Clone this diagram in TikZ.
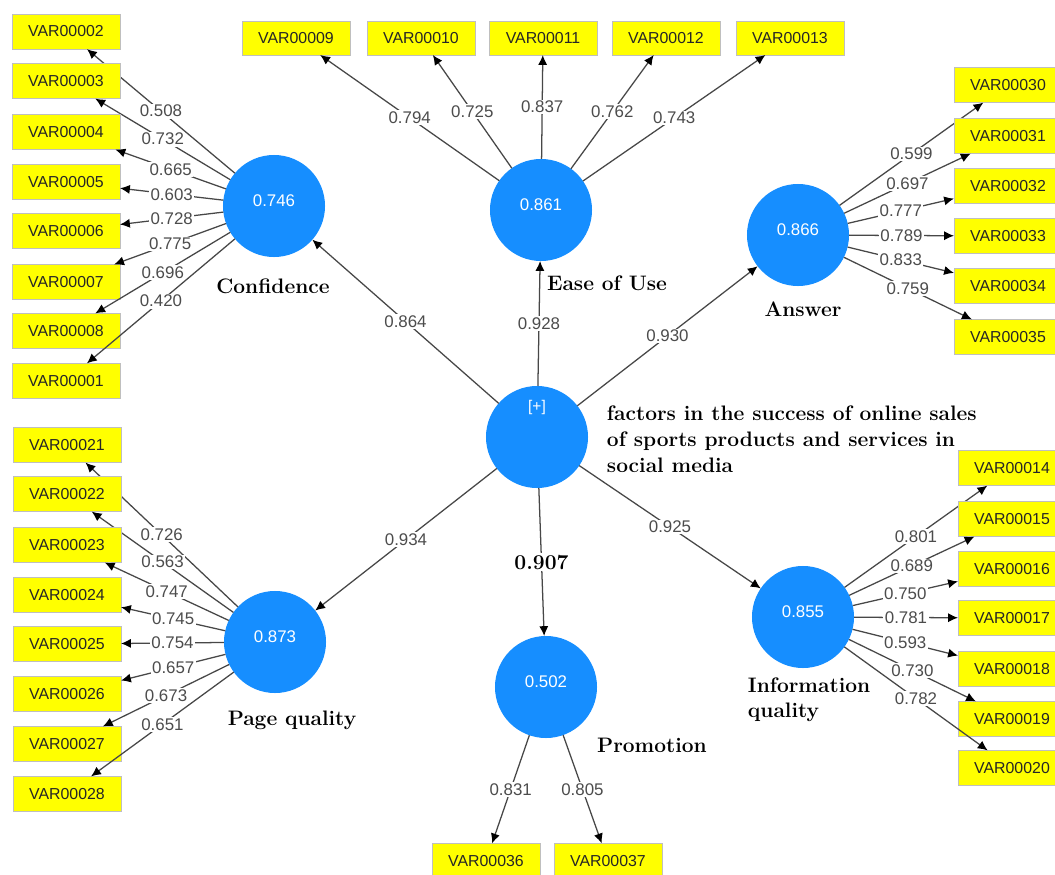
\documentclass[tikz,border=0pt]{standalone}
\usepackage{fontspec}
\usetikzlibrary{arrows.meta}
\newfontfamily\plsfont{Liberation Sans}
\definecolor{lvblue}{RGB}{22,142,255}
\definecolor{mvyellow}{RGB}{255,255,0}

\begin{document}
\begin{tikzpicture}[
  x=0.025cm, y=-0.025cm,
  latent/.style = {circle, fill=lvblue, minimum size=2.55cm, inner sep=0pt, outer sep=0pt, text=white,
    font=\plsfont\fontsize{12}{14}\selectfont, text height=8.5pt, text depth=8.5pt},
  indicator/.style = {draw=black!25, fill=mvyellow, minimum width=2.7cm, minimum height=0.88cm,
    inner sep=0pt, outer sep=0pt, text=black!85, font=\plsfont\fontsize{11.3}{13}\selectfont},
  loading/.style = {fill=white, inner sep=1pt, text=black!70, font=\plsfont\fontsize{12}{14}\selectfont},
  title/.style = {font=\bfseries\fontsize{14.9}{18.5}\selectfont, align=left},
  arrow/.style = {draw=black!72, line width=0.9pt, -{Latex[length=7pt,width=6.5pt,color=black]}}
]
  \path[use as bounding box, fill=white] (0,0) rectangle (1055,875);

  % Latent variables
  \node[latent] (conf) at (274,206) {0.746};
  \node[latent] (ease) at (541,210) {0.861};
  \node[latent] (answ) at (798,235) {0.866};
  \node[latent] (cent) at (537,437) {};
  \node[latent] (pageq) at (275,642) {0.873};
  \node[latent] (promo) at (546,687) {0.502};
  \node[latent] (infoq) at (803,617) {0.855};
  \node[text=white, font=\plsfont\fontsize{11}{12}\selectfont] (plus) at (537,407) {[+]};

  % Titles
  \node[title] (conft) at (273,286) {Confidence};
  \node[title] (easet) at (607,283) {Ease of Use};
  \node[title] (answt) at (803,309) {Answer};
  \node[title, anchor=west] (centt) at (602,439) {factors in the success of online sales\\of sports products and services in\\social media};
  \node[title] (pageqt) at (292,720) {Page quality};
  \node[title] (promot) at (652,745) {Promotion};
  \node[title, anchor=west, font=\bfseries\fontsize{14.9}{17.8}\selectfont] (infoqt) at (743,700) {Information\\quality};

  % Structural paths
  \draw[arrow] (cent) -- node[loading] {0.864} (conf);
  \draw[arrow] (cent) -- node[loading] {0.928} (ease);
  \draw[arrow] (cent) -- node[loading] {0.930} (answ);
  \draw[arrow] (cent) -- node[loading] {0.934} (pageq);
  \draw[arrow] (cent) -- node[loading, text=black, font=\bfseries\fontsize{15}{17}\selectfont] {0.907} (promo);
  \draw[arrow] (cent) -- node[loading] {0.925} (infoq);

  % Confidence
  \node[indicator] (v02) at (66,31.5) {VAR00002}; \draw[arrow] (conf) -- node[loading] {0.508} (v02);
  \node[indicator] (v03) at (66,81) {VAR00003};   \draw[arrow] (conf) -- node[loading] {0.732} (v03);
  \node[indicator] (v04) at (66,132) {VAR00004};  \draw[arrow] (conf) -- node[loading] {0.665} (v04);
  \node[indicator] (v05) at (66,182) {VAR00005};  \draw[arrow] (conf) -- node[loading] {0.603} (v05);
  \node[indicator] (v06) at (66,231) {VAR00006};  \draw[arrow] (conf) -- node[loading] {0.728} (v06);
  \node[indicator] (v07) at (66,282) {VAR00007};  \draw[arrow] (conf) -- node[loading] {0.775} (v07);
  \node[indicator] (v08) at (66,331) {VAR00008};  \draw[arrow] (conf) -- node[loading] {0.696} (v08);
  \node[indicator] (v01) at (66,381) {VAR00001};  \draw[arrow] (conf) -- node[loading] {0.420} (v01);

  % Ease of Use
  \node[indicator, minimum height=0.85cm] (v09) at (296,38) {VAR00009}; \draw[arrow] (ease) -- node[loading] {0.794} (v09);
  \node[indicator, minimum height=0.85cm] (v10) at (421,38) {VAR00010}; \draw[arrow] (ease) -- node[loading] {0.725} (v10);
  \node[indicator, minimum height=0.85cm] (v11) at (543,38) {VAR00011}; \draw[arrow] (ease) -- node[loading] {0.837} (v11);
  \node[indicator, minimum height=0.85cm] (v12) at (666,38) {VAR00012}; \draw[arrow] (ease) -- node[loading] {0.762} (v12);
  \node[indicator, minimum height=0.85cm] (v13) at (790,38) {VAR00013}; \draw[arrow] (ease) -- node[loading] {0.743} (v13);

  % Answer
  \node[indicator] (v30) at (1008,85) {VAR00030};  \draw[arrow] (answ) -- node[loading] {0.599} (v30);
  \node[indicator] (v31) at (1008,136) {VAR00031}; \draw[arrow] (answ) -- node[loading] {0.697} (v31);
  \node[indicator] (v32) at (1008,186) {VAR00032}; \draw[arrow] (answ) -- node[loading] {0.777} (v32);
  \node[indicator] (v33) at (1008,236) {VAR00033}; \draw[arrow] (answ) -- node[loading] {0.789} (v33);
  \node[indicator] (v34) at (1008,286) {VAR00034}; \draw[arrow] (answ) -- node[loading] {0.833} (v34);
  \node[indicator] (v35) at (1008,337) {VAR00035}; \draw[arrow] (answ) -- node[loading] {0.759} (v35);

  % Page quality
  \node[indicator] (v21) at (67,445) {VAR00021}; \draw[arrow] (pageq) -- node[loading] {0.726} (v21);
  \node[indicator] (v22) at (67,494) {VAR00022}; \draw[arrow] (pageq) -- node[loading] {0.563} (v22);
  \node[indicator] (v23) at (67,545) {VAR00023}; \draw[arrow] (pageq) -- node[loading] {0.747} (v23);
  \node[indicator] (v24) at (67,595) {VAR00024}; \draw[arrow] (pageq) -- node[loading] {0.745} (v24);
  \node[indicator] (v25) at (67,644) {VAR00025}; \draw[arrow] (pageq) -- node[loading] {0.754} (v25);
  \node[indicator] (v26) at (67,694) {VAR00026}; \draw[arrow] (pageq) -- node[loading] {0.657} (v26);
  \node[indicator] (v27) at (67,744) {VAR00027}; \draw[arrow] (pageq) -- node[loading] {0.673} (v27);
  \node[indicator] (v28) at (67,794) {VAR00028}; \draw[arrow] (pageq) -- node[loading] {0.651} (v28);

  % Information quality
  \node[indicator] (v14) at (1012,468) {VAR00014}; \draw[arrow] (infoq) -- node[loading] {0.801} (v14);
  \node[indicator] (v15) at (1012,519) {VAR00015}; \draw[arrow] (infoq) -- node[loading] {0.689} (v15);
  \node[indicator] (v16) at (1012,569) {VAR00016}; \draw[arrow] (infoq) -- node[loading] {0.750} (v16);
  \node[indicator] (v17) at (1012,618) {VAR00017}; \draw[arrow] (infoq) -- node[loading] {0.781} (v17);
  \node[indicator] (v18) at (1012,669) {VAR00018}; \draw[arrow] (infoq) -- node[loading] {0.593} (v18);
  \node[indicator] (v19) at (1012,719) {VAR00019}; \draw[arrow] (infoq) -- node[loading] {0.730} (v19);
  \node[indicator] (v20) at (1012,768) {VAR00020}; \draw[arrow] (infoq) -- node[loading] {0.782} (v20);

  % Promotion
  \node[indicator] (v36) at (486,861) {VAR00036}; \draw[arrow] (promo) -- node[loading] {0.831} (v36);
  \node[indicator] (v37) at (608,861) {VAR00037}; \draw[arrow] (promo) -- node[loading] {0.805} (v37);

\end{tikzpicture}
\end{document}
